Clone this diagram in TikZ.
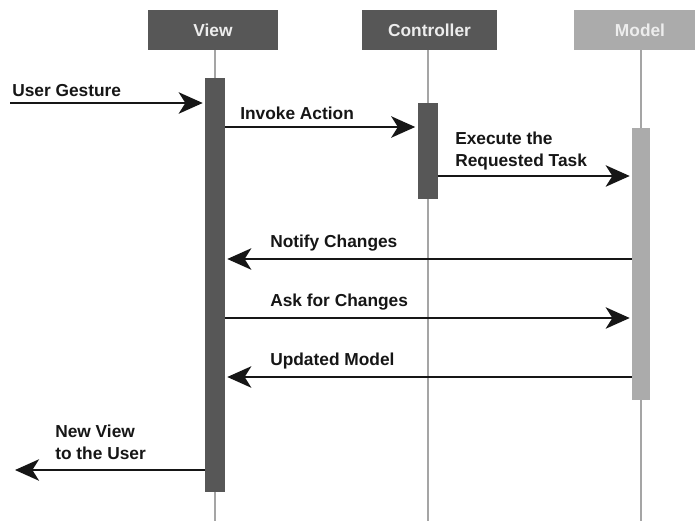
\documentclass[tikz,border=0pt]{standalone}
\usepackage{fontspec}
\setmainfont{Liberation Sans}
\usetikzlibrary{arrows.meta}
\definecolor{dk}{HTML}{575757}
\definecolor{lt}{HTML}{ABABAB}
\definecolor{ll}{HTML}{A5A5A5}
\definecolor{ink}{HTML}{161616}
\definecolor{htext}{HTML}{EDEDED}
\begin{document}
\begin{tikzpicture}[x=0.75pt,y=-0.75pt,
  head/.style={rectangle, inner sep=0, minimum height=30pt, text=htext,
    font=\fontsize{13}{15}\selectfont\bfseries},
  bar/.style={rectangle, inner sep=0, minimum width=15pt},
  life/.style={draw=ll, line width=1.1pt},
  msg/.style={draw=ink, line width=2pt, shorten >=1.5pt,
    -{Stealth[length=18pt,width=16pt,inset=5pt]}},
  lbl/.style={anchor=base west, inner sep=0, text=ink, align=left,
    font=\fontsize{13}{16.5}\selectfont\bfseries},
]
\clip (0,0) rectangle (695,521);
\fill[white] (0,0) rectangle (695,521);
\coordinate (bot) at (0,521);
% headers
\node[head, fill=dk, minimum width=97.5pt] (vhead) at (213,30) {View};
\node[head, fill=dk, minimum width=101.25pt] (chead) at (429.5,30) {Controller};
\node[head, fill=lt, minimum width=99pt] (mhead) at (640,30) {Model};
% lifeline positions
\coordinate (vx) at (215,0);
\coordinate (cx) at (428,0);
\coordinate (mx) at (641,0);
\draw[life] (vx |- vhead.south) -- (vx |- bot);
\draw[life] (cx |- chead.south) -- (cx |- bot);
\draw[life] (mx |- mhead.south) -- (mx |- bot);
% activation bars
\node[bar, fill=dk, minimum height=310.5pt] (vbar) at (215,285) {};
\node[bar, fill=dk, minimum height=72pt] (cbar) at (427.5,151) {};
\node[bar, fill=lt, minimum width=13.5pt, minimum height=204pt] (mbar) at (641,264) {};
% messages
\coordinate (ug) at (10,103);
\draw[msg] (ug) -- (vbar.west |- ug);
\node[lbl] (ugl) at (12,96) {User Gesture};

\coordinate (ia) at (0,127);
\draw[msg] (vbar.east |- ia) -- (cbar.west |- ia);
\node[lbl] (ial) at (240,119) {Invoke Action};

\coordinate (ex) at (0,176);
\draw[msg] (cbar.east |- ex) -- (mbar.west |- ex);
\node[lbl] (exl) at (455,166) {Execute the\\Requested Task};

\coordinate (nc) at (0,259);
\draw[msg] (mbar.west |- nc) -- (vbar.east |- nc);
\node[lbl] (ncl) at (270,247) {Notify Changes};

\coordinate (ac) at (0,318);
\draw[msg] (vbar.east |- ac) -- (mbar.west |- ac);
\node[lbl] (acl) at (270,306) {Ask for Changes};

\coordinate (um) at (0,377);
\draw[msg] (mbar.west |- um) -- (vbar.east |- um);
\node[lbl] (uml) at (270,365) {Updated Model};

\coordinate (nv) at (13,470);
\draw[msg] (vbar.west |- nv) -- (nv);
\node[lbl] (nvl) at (55,459) {New View\\to the User};
\end{tikzpicture}
\end{document}
